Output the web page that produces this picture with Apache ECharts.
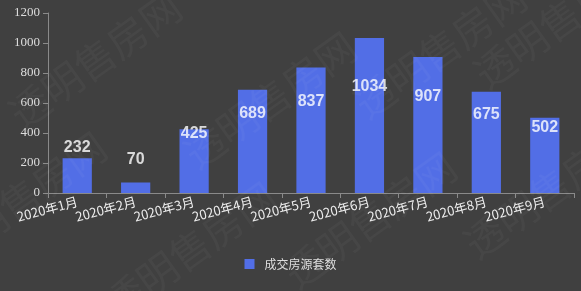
<!DOCTYPE html>
<html>
<head>
<meta charset="utf-8">
<script src="https://cdn.jsdelivr.net/npm/echarts@6/dist/echarts.min.js"></script>
<style>
html,body{margin:0;padding:0;background:#404040;}
#chart{width:581px;height:291px;}
</style>
</head>
<body>
<div id="chart"></div>
<script>
const categories = ['2020年1月','2020年2月','2020年3月','2020年4月','2020年5月','2020年6月','2020年7月','2020年8月','2020年9月'];
const values = [232, 70, 425, 689, 837, 1034, 907, 675, 502];
const seriesName = '成交房源套数';
const yTicks = [0, 200, 400, 600, 800, 1000, 1200];

const chart = echarts.init(document.getElementById('chart'), null, {renderer: 'canvas'});

const wmCenters = [[95,60],[270,100],[440,50],[190,250],[370,220],[550,190],[20,200],[560,20]];
const watermark = wmCenters.map(c => ({
  type: 'text', x: c[0], y: c[1], rotation: 0.62, z: 100,
  style: {text: '透明售房网', fill: 'rgba(255,255,255,0.035)', font: '40px "Noto Sans CJK SC"', align: 'center', verticalAlign: 'middle'}
}));

chart.setOption({
  backgroundColor: '#404040',
  animation: false,
  graphic: watermark,
  grid: {left: 48, right: 7, top: 13, bottom: 98, containLabel: false},
  legend: {
    bottom: 16, left: 'center', itemWidth: 10, itemHeight: 10, icon: 'rect', itemGap: 10,
    textStyle: {color: '#dddddd', fontSize: 12, fontFamily: '"Noto Sans CJK SC"', padding: [0, 0, 0, 5]},
    data: [seriesName]
  },
  xAxis: {
    type: 'category', data: categories,
    axisLine: {lineStyle: {color: '#8a8a8a'}},
    axisTick: {show: true, lineStyle: {color: '#8a8a8a'}},
    axisLabel: {rotate: 15, color: '#eeeeee', fontSize: 13, fontFamily: '"Noto Sans CJK SC"', interval: 0, margin: 8}
  },
  yAxis: [{
    type: 'value', min: yTicks[0], max: yTicks[yTicks.length-1], interval: 200,
    axisLine: {show: true, lineStyle: {color: '#8a8a8a'}},
    axisTick: {show: true, lineStyle: {color: '#8a8a8a'}},
    splitLine: {show: false},
    axisLabel: {color: '#dddddd', fontSize: 13, fontFamily: '"Liberation Serif", serif', formatter: v => String(v)}
  }, {
    type: 'value', min: -366, max: 2012, show: false, splitLine: {show: false}
  }],
  series: [{
    name: seriesName, type: 'bar', data: values, barWidth: '50%',
    itemStyle: {color: '#526ee6'}
  }, {
    name: 'labels', type: 'scatter', yAxisIndex: 1, data: values, symbolSize: 0,
    label: {show: true, position: 'inside', color: '#ffffff', fontSize: 16, fontWeight: 'bold', fontFamily: '"Liberation Sans", Arial, sans-serif',
      formatter: p => p.value}
  }]
});
</script>
</body>
</html>
